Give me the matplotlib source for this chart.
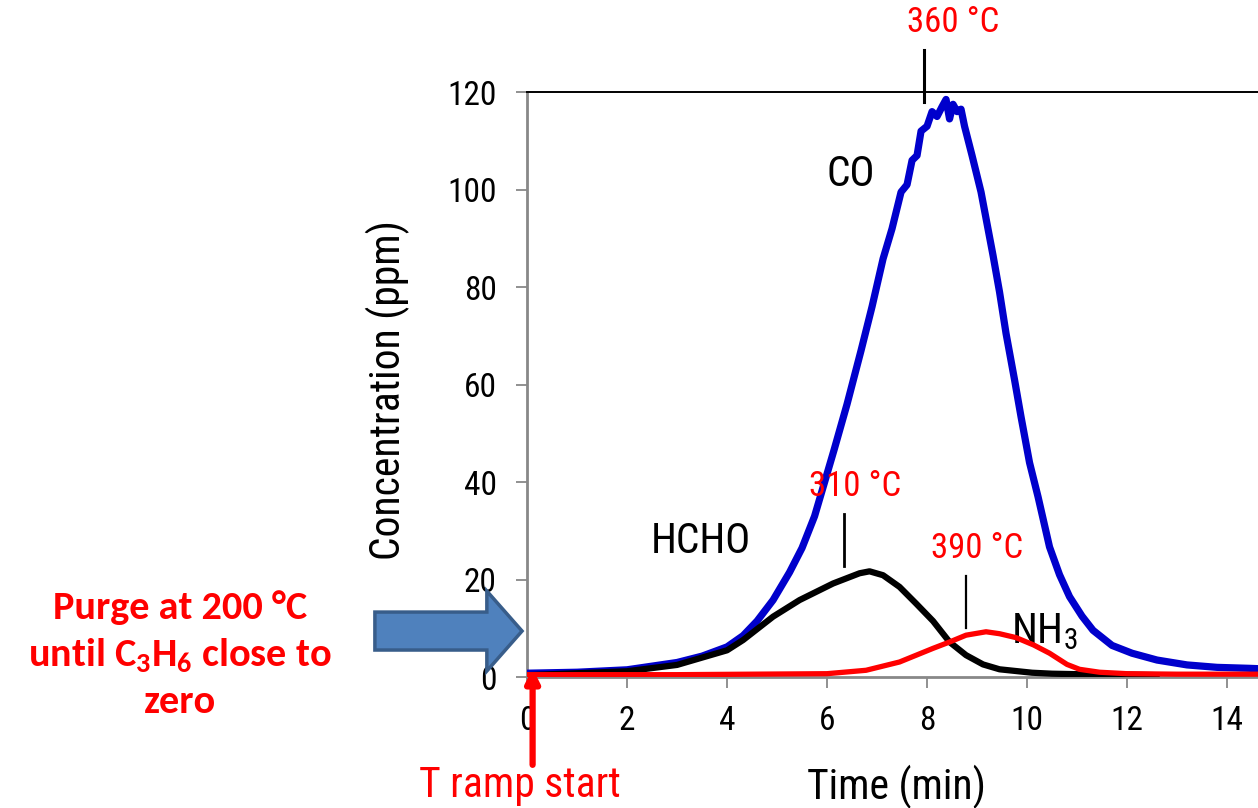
import matplotlib
matplotlib.use("Agg")
import matplotlib.pyplot as plt
import matplotlib.patches as mpatches
from matplotlib import font_manager as fm

# fonts: condensed sans for the chart, Calibri-like bold for the purge note
names = set(f.name for f in fm.fontManager.ttflist)
narrow = next((n for n in ["Roboto Condensed", "Archivo Narrow", "Barlow Condensed", "Asap Condensed"]
               if n in names), "DejaVu Sans")
boldfont = next((n for n in ["Carlito", "Lato", "Open Sans"] if n in names), "DejaVu Sans")
plt.rcParams["font.family"] = [narrow, "DejaVu Sans"]

# CO (ppm) vs time (min)
co_t = [0, 1, 2, 3, 3.5, 4, 4.32, 4.6, 4.92, 5.25, 5.5, 5.75, 6.14, 6.4, 6.68, 6.9, 7.12, 7.3, 7.48,
        7.6, 7.7, 7.8, 7.88, 8.0, 8.1, 8.2, 8.3, 8.38, 8.45, 8.52, 8.6, 8.68, 8.75, 8.9, 9.08, 9.2,
        9.32, 9.45, 9.58, 9.75, 9.88, 10.05, 10.22, 10.45, 10.65, 10.85, 11.1, 11.32, 11.7, 12.1,
        12.6, 13.2, 13.8, 14.45, 14.7]
co_c = [0.8, 1.0, 1.5, 3, 4.3, 6.2, 8.5, 11.5, 15.8, 21.5, 26.5, 33, 46.6, 56, 67, 76, 85.8, 92, 99.5,
        101, 106, 107, 112, 113, 116, 115, 117, 118.5, 114.5, 117.5, 116, 116.5, 113, 107, 99.5, 93,
        86.5, 79, 70.5, 61, 53.4, 44, 37, 26.7, 21, 16.5, 12.5, 9.6, 6.5, 4.9,
        3.5, 2.5, 2.0, 1.8, 1.7]

# HCHO
hcho_t = [0, 2, 3, 4, 4.32, 4.92, 5.45, 6.12, 6.65, 6.85, 7.12, 7.45, 7.78, 8.12, 8.45, 8.78, 9.12,
          9.45, 10.1, 10.5, 11, 12, 12.6]
hcho_c = [0.4, 1.2, 2.5, 5.5, 7.6, 12.4, 15.8, 19.2, 21.3, 21.7, 20.9, 18.5, 15.1, 11.5, 7.2, 4.5, 2.6,
          1.6, 0.9, 0.7, 0.6, 0.5, 0.4]

# NH3
nh3_t = [0, 3, 6, 6.78, 7.45, 8.12, 8.45, 8.78, 9.18, 9.45, 9.78, 10.13, 10.45, 10.8, 11.05, 11.45,
         12, 13, 14.7]
nh3_c = [0.5, 0.5, 0.7, 1.4, 3.1, 5.9, 7.2, 8.6, 9.3, 8.9, 8.1, 6.6, 4.9, 2.6, 1.6, 1.0,
         0.7, 0.6, 0.6]

fig = plt.figure(figsize=(12.58, 8.08), dpi=100)
ax = fig.add_axes([0.419, 0.162, 0.581, 0.724])

ax.plot(co_t, co_c, color="#0000CC", lw=5.2, solid_joinstyle="round", solid_capstyle="round", zorder=3)
ax.plot(hcho_t, hcho_c, color="black", lw=4.5, solid_joinstyle="round", solid_capstyle="round", zorder=4)
ax.plot(nh3_t, nh3_c, color="#FF0000", lw=3.8, solid_joinstyle="round", solid_capstyle="round", zorder=5)

ax.set_xlim(0, 14.62)
ax.set_ylim(0, 120)
ax.set_xticks(range(0, 15, 2))
ax.set_yticks(range(0, 121, 20))
ax.tick_params(axis="both", labelsize=24, color="#888888", length=8, width=1.3)
ax.tick_params(axis="y", pad=14)
ax.tick_params(axis="x", pad=12)
ax.spines["right"].set_visible(False)
for s in ["left", "bottom"]:
    ax.spines[s].set_color("#888888")
    ax.spines[s].set_linewidth(2)
ax.spines["top"].set_color("black")
ax.spines["top"].set_linewidth(1.4)
ax.set_xlabel("Time (min)", fontsize=30)
ax.set_ylabel("Concentration (ppm)", fontsize=30)
ax.xaxis.set_label_coords(0.506, -0.15)
ax.yaxis.set_label_coords(-0.16, 0.49)

# peak temperature markers
ax.plot([7.94, 7.94], [118, 128.6], color="black", lw=2.2, clip_on=False)
ax.plot([6.34, 6.34], [22.8, 33.4], color="black", lw=2)
ax.plot([8.77, 8.77], [10.1, 20.7], color="black", lw=1.6)
ax.text(8.53, 134.2, "360 °C", color="#FF0000", fontsize=25, ha="center", va="center")
ax.text(6.57, 39.0, "310 °C", color="#FF0000", fontsize=25, ha="center", va="center")
ax.text(9.01, 26.3, "390 °C", color="#FF0000", fontsize=25, ha="center", va="center")

ax.text(6.47, 103.2, "CO", fontsize=30, ha="center", va="center")
ax.text(3.47, 27.9, "HCHO", fontsize=30, ha="center", va="center")
ax.text(9.68, 6.9, r"NH$_\mathregular{3}$", fontsize=30, ha="left", va="baseline")

# purge note and block arrow
fig.text(0.143, 0.190, "Purge at 200 °C\nuntil C$_\\mathregular{3}$H$_\\mathregular{6}$ close to\nzero",
         color="#FF0000", fontsize=29, fontweight="bold", family=boldfont, ha="center", va="center",
         linespacing=1.38)
arrow = mpatches.FancyArrow(0.298, 0.219, 0.117, 0, width=0.047, head_width=0.099, head_length=0.028,
                            length_includes_head=True, transform=fig.transFigure,
                            facecolor="#4F81BD", edgecolor="#385D8A", lw=2.5)
fig.patches.append(arrow)

# T ramp start arrow
ax.annotate("", xy=(0.11, 1.8), xytext=(0.11, -18), xycoords="data",
            arrowprops=dict(arrowstyle="-|>,head_width=0.4,head_length=0.8", color="#FF0000", lw=4.5,
                            shrinkA=0, shrinkB=0),
            annotation_clip=False)
fig.text(0.413, 0.028, "T ramp start", color="#FF0000", fontsize=30, ha="center", va="center")

fig.savefig("out.png", dpi=100)
